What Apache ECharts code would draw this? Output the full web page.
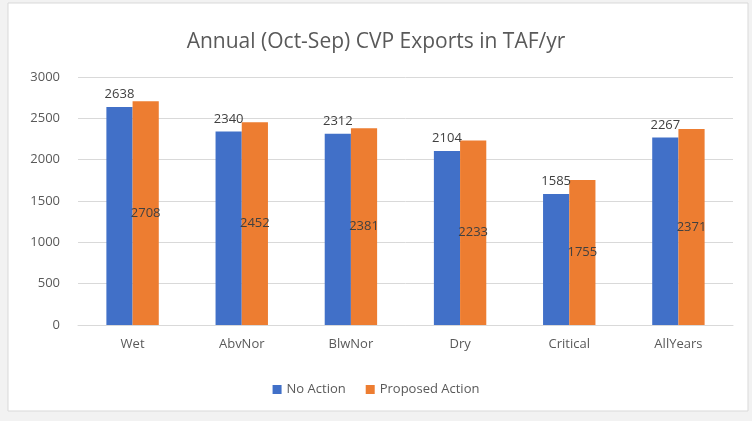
<!DOCTYPE html>
<html><head><meta charset="utf-8">
<script src="https://cdn.jsdelivr.net/npm/echarts@6/dist/echarts.min.js"></script>
<style>html,body{margin:0;padding:0;background:#f2f2f2;}#c{width:752px;height:421px;}</style>
</head><body><div id="c"></div>
<script>
const categories = ['Wet','AbvNor','BlwNor','Dry','Critical','AllYears'];
const noAction = [2638, 2340, 2312, 2104, 1585, 2267];
const proposedAction = [2708, 2452, 2381, 2233, 1755, 2371];
const yTicks = [0, 500, 1000, 1500, 2000, 2500, 3000];

const chart = echarts.init(document.getElementById('c'));
chart.setOption({
  animation: false,
  backgroundColor: '#f2f2f2',
  graphic: [{type:'rect', shape:{x:8,y:3,width:740,height:408}, style:{fill:'#ffffff', stroke:'#d9d9d9', lineWidth:1}, z:-10}],
  title: {text: 'Annual (Oct-Sep) CVP Exports in TAF/yr', left: 'center', top: 27,
    textStyle:{fontFamily:'Open Sans', fontWeight:'normal', fontSize:21, color:'#595959'}},
  legend: {bottom: 20, itemWidth: 9, itemHeight: 9, itemGap: 20, icon: 'rect',
    textStyle:{fontFamily:'Open Sans', fontSize:13, color:'#595959'},
    data:['No Action','Proposed Action']},
  grid: {left: 78, right: 19, top: 77, bottom: 96, containLabel: false},
  xAxis: {type:'category', data: categories,
    axisLine:{lineStyle:{color:'#d9d9d9'}}, axisTick:{show:false},
    axisLabel:{fontFamily:'Open Sans', fontSize:13, color:'#595959', margin:13}},
  yAxis: {type:'value', min: yTicks[0], max: yTicks[yTicks.length-1], interval: 500,
    axisLine:{show:false}, axisTick:{show:false},
    splitLine:{lineStyle:{color:'#d9d9d9'}},
    axisLabel:{fontFamily:'Open Sans', fontSize:13, color:'#595959', margin:18,
      formatter: v => String(v)}},
  series: [
    {name:'No Action', type:'bar', data: noAction, barGap:'0%', barCategoryGap:'52%',
      itemStyle:{color:'#4170c8'},
      label:{show:true, position:'top', distance:6, fontFamily:'Open Sans', fontSize:13, color:'#404040'}},
    {name:'Proposed Action', type:'bar', data: proposedAction,
      itemStyle:{color:'#ed7d31'},
      label:{show:true, position:'inside', fontFamily:'Open Sans', fontSize:13, color:'#404040'}}
  ]
});
</script></body></html>
